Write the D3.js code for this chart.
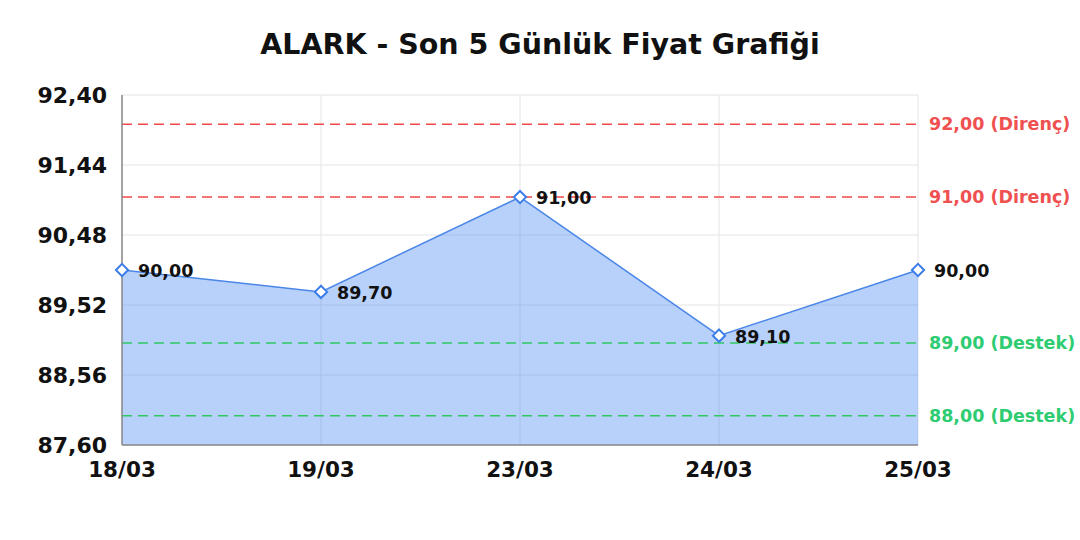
<!DOCTYPE html>
<html>
<head>
<meta charset="utf-8">
<script src="https://cdn.jsdelivr.net/npm/d3@7"></script>
<style>
  body { margin: 0; background: #fff; }
  text { font-family: "DejaVu Sans", sans-serif; font-weight: bold; }
</style>
</head>
<body>
<div id="chart"></div>
<script>
// data
var dates = ["18/03", "19/03", "23/03", "24/03", "25/03"];
var prices = [90.00, 89.70, 91.00, 89.10, 90.00];
var yTicks = [87.60, 88.56, 89.52, 90.48, 91.44, 92.40];
var resistance = [92.00, 91.00];
var support = [89.00, 88.00];

var fmt = function(v) { return v.toFixed(2).replace(".", ","); };

var W = 1080, H = 540;
var margin = {top: 95, right: 162, bottom: 95, left: 122};
var width = W - margin.left - margin.right,
    height = H - margin.top - margin.bottom;

var svg = d3.select("#chart").append("svg")
  .attr("width", W)
  .attr("height", H);

// title
svg.append("text")
  .attr("x", 540)
  .attr("y", 54)
  .attr("text-anchor", "middle")
  .style("font-size", "28.5px")
  .attr("fill", "#111")
  .text("ALARK - Son 5 Günlük Fiyat Grafiği");

var g = svg.append("g")
  .attr("transform", "translate(" + margin.left + "," + margin.top + ")");

var x = d3.scalePoint().domain(dates).range([0, width]);
var y = d3.scaleLinear().domain([87.60, 92.40]).range([height, 0]);

// grid
g.selectAll(".hgrid")
  .data(yTicks)
  .enter().append("line")
  .attr("x1", 0).attr("x2", width)
  .attr("y1", function(d) { return y(d); })
  .attr("y2", function(d) { return y(d); })
  .attr("stroke", "#e4e4e4").attr("stroke-width", 1);

g.selectAll(".vgrid")
  .data(dates)
  .enter().append("line")
  .attr("x1", function(d) { return x(d); })
  .attr("x2", function(d) { return x(d); })
  .attr("y1", 0).attr("y2", height)
  .attr("stroke", "#e4e4e4").attr("stroke-width", 1);

// area + line
var pts = dates.map(function(d, i) { return {d: d, v: prices[i]}; });

var area = d3.area()
  .x(function(p) { return x(p.d); })
  .y0(height)
  .y1(function(p) { return y(p.v); });

var line = d3.line()
  .x(function(p) { return x(p.d); })
  .y(function(p) { return y(p.v); });

g.append("path")
  .datum(pts)
  .attr("d", area)
  .attr("fill", "#4285f4")
  .attr("fill-opacity", 0.38);

g.append("path")
  .datum(pts)
  .attr("d", line)
  .attr("fill", "none")
  .attr("stroke", "#4a86e8")
  .attr("stroke-width", 1.5);

// support / resistance lines
function levelLine(vals, color, textColor, name) {
  g.selectAll(null)
    .data(vals)
    .enter().append("line")
    .attr("x1", 0).attr("x2", width)
    .attr("y1", function(d) { return y(d); })
    .attr("y2", function(d) { return y(d); })
    .attr("stroke", color)
    .attr("stroke-width", 1.5)
    .attr("stroke-dasharray", "10,6");

  g.selectAll(null)
    .data(vals)
    .enter().append("text")
    .attr("x", width + 11)
    .attr("y", function(d) { return y(d); })
    .attr("dy", "0.35em")
    .style("font-size", "17.5px")
    .attr("fill", textColor)
    .text(function(d) { return fmt(d) + " (" + name + ")"; });
}
levelLine(resistance, "#f24848", "#ef5050", "Direnç");
levelLine(support, "#30c862", "#2ecc71", "Destek");

// axes lines
g.append("line")
  .attr("x1", 0).attr("x2", 0).attr("y1", 0).attr("y2", height)
  .attr("stroke", "#888").attr("stroke-width", 1.5);
g.append("line")
  .attr("x1", 0).attr("x2", width).attr("y1", height).attr("y2", height)
  .attr("stroke", "#888").attr("stroke-width", 1.5);

// markers
var diamond = d3.symbol().type(d3.symbolDiamond2).size(95);
g.selectAll(".dot")
  .data(pts)
  .enter().append("path")
  .attr("d", diamond)
  .attr("transform", function(p) { return "translate(" + x(p.d) + "," + y(p.v) + ")"; })
  .attr("fill", "#fff")
  .attr("stroke", "#3b7de9")
  .attr("stroke-width", 2);

// value labels
g.selectAll(".lbl")
  .data(pts)
  .enter().append("text")
  .attr("x", function(p) { return x(p.d) + 16; })
  .attr("y", function(p) { return y(p.v) + 1; })
  .attr("dy", "0.35em")
  .style("font-size", "17.5px")
  .attr("fill", "#111")
  .text(function(p) { return fmt(p.v); });

// y tick labels
g.selectAll(".ytick")
  .data(yTicks)
  .enter().append("text")
  .attr("x", -15)
  .attr("y", function(d) { return y(d); })
  .attr("dy", "0.35em")
  .attr("text-anchor", "end")
  .style("font-size", "22px")
  .attr("fill", "#111")
  .text(fmt);

// x tick labels
g.selectAll(".xtick")
  .data(dates)
  .enter().append("text")
  .attr("x", function(d) { return x(d); })
  .attr("y", height + 32)
  .attr("text-anchor", "middle")
  .style("font-size", "21.5px")
  .attr("fill", "#111")
  .text(function(d) { return d; });
</script>
</body>
</html>
